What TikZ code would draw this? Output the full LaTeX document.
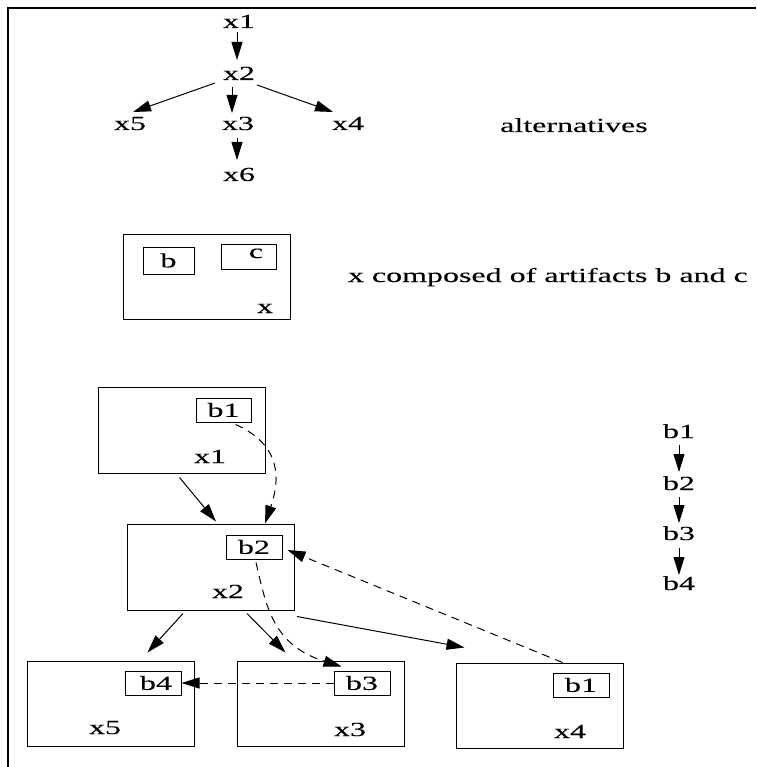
\documentclass[tikz,border=0pt]{standalone}
\usepackage{fontspec}
\newfontfamily\wfont[FakeStretch=1.6,FakeBold=0.1]{Liberation Serif}
\usetikzlibrary{arrows.meta}
\begin{document}
\begin{tikzpicture}[x=1pt,y=-1pt,
  lbl/.style={font=\wfont\fontsize{20}{22}\selectfont, inner sep=0pt, anchor=base},
  bigbox/.style={draw, line width=1pt, minimum width=167pt, minimum height=86pt, inner sep=0pt},
  smallbox/.style={draw, line width=1pt, minimum width=56pt, minimum height=24pt, inner sep=0pt, font=\wfont\fontsize{20}{22}\selectfont},
  arr/.style={line width=1pt, -{Triangle[length=18pt,width=11pt]}},
  darr/.style={arr, dash pattern=on 8pt off 6pt},
]
\useasboundingbox (0,0) rectangle (756,767);
\draw[line width=1.3pt] (756,8) -- (8,8) -- (8,767);

% top tree
\node[lbl] (t1) at (239,28) {x1};
\node[lbl] (t2) at (239,80) {x2};
\node[lbl] (t3) at (238,130) {x3};
\node[lbl] (t5) at (130,130) {x5};
\node[lbl] (t4) at (348,130) {x4};
\node[lbl] (t6) at (239,181) {x6};
\node[lbl, anchor=base west] (alt) at (500,132) {alternatives};
\draw[arr] ([shift={(-2,4)}]t1.base) -- ([shift={(-2,-20)}]t2.base);
\draw[arr] ([shift={(-7,7)}]t2.base) -- ([shift={(-6,-17)}]t3.base);
\draw[arr] ([shift={(-24,3)}]t2.base) -- ([shift={(3,-18)}]t5.base);
\draw[arr] ([shift={(18,5)}]t2.base) -- ([shift={(-15,-18)}]t4.base);
\draw[arr] ([shift={(-1,8)}]t3.base) -- ([shift={(-2,-21)}]t6.base);

% composition
\node[bigbox, minimum height=85pt] (xbox) at (206.5,276.5) {};
\node[smallbox, minimum width=51pt, minimum height=27pt] (bbox) at (168.5,260.5) {b};
\node[smallbox, minimum width=55pt, minimum height=25pt] (cbox) at (248.5,256.5) {};
\node[lbl] (ctext) at (256,258) {c};
\node[lbl] (xtext) at (265,313) {x};
\node[lbl, anchor=base east] (comp) at (748,282) {x composed of artifacts b and c};

% bottom diagram
\node[bigbox] (x1box) at (181.5,430) {};
\node[bigbox] (x2box) at (211,567) {};
\node[bigbox, minimum height=85pt] (x5box) at (110.5,703.5) {};
\node[bigbox, minimum height=85pt] (x3box) at (320.5,703.5) {};
\node[bigbox, minimum height=85pt] (x4box) at (539.5,705.5) {};
\node[smallbox, minimum width=55pt] (b1box) at (223.5,410) {b1};
\node[smallbox] (b2box) at (254,547) {b2};
\node[smallbox] (b4box) at (153,683) {\hspace*{6pt}b4};
\node[smallbox] (b3box) at (362,683) {b3};
\node[smallbox] (b1xbox) at (581,685) {b1};
\node[lbl] (x1lab) at (210,463) {x1};
\node[lbl] (x2lab) at (228,598) {x2};
\node[lbl] (x5lab) at (105,734) {x5};
\node[lbl] (x3lab) at (350,736) {x3};
\node[lbl] (x4lab) at (570,738) {x4};

\draw[arr] ([shift={(82,4)}]x1box.south west) -- ([shift={(89,-2)}]x2box.north west);
\draw[arr] ([shift={(56,3)}]x2box.south west) -- ([shift={(-47,-8)}]x5box.north east);
\draw[arr] ([shift={(120,3)}]x2box.south west) -- ([shift={(49,-8)}]x3box.north west);
\draw[arr] ([shift={(2,6)}]x2box.south east) -- ([shift={(9,-15)}]x4box.north west);

\draw[darr] ([shift={(12,2)}]b1box.south) .. controls (282,445) and (280,480) .. ([shift={(138,0)}]x2box.north west);
\draw[darr] ([shift={(2,3)}]b2box.south) .. controls (266,605) and (272,645) .. ([shift={(8,-4)}]b3box.north west);
\draw[darr] (b3box.west) -- (b4box.east);
\draw[darr] ([shift={(107,0)}]x4box.north west) -- ([shift={(5,3)}]b2box.east);

% right chain
\node[lbl] (r1) at (679,438) {b1};
\node[lbl] (r2) at (679,490) {b2};
\node[lbl] (r3) at (679,540) {b3};
\node[lbl] (r4) at (679,590) {b4};
\draw[arr] ([shift={(0,7)}]r1.base) -- ([shift={(0,-18)}]r2.base);
\draw[arr] ([shift={(0,7)}]r2.base) -- ([shift={(0,-17)}]r3.base);
\draw[arr] ([shift={(0,8)}]r3.base) -- ([shift={(0,-15)}]r4.base);
\end{tikzpicture}
\end{document}
